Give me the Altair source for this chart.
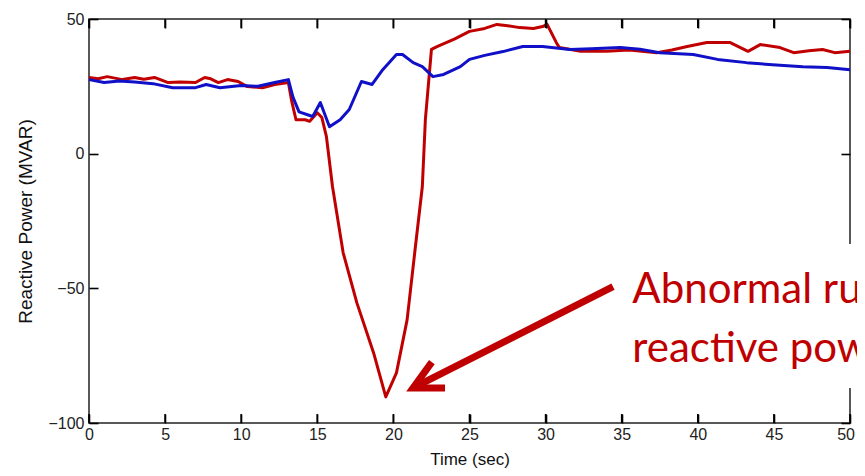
import altair as alt
import pandas as pd

# ---- data ----
red_t = [0, 0.6, 1.2, 2.2, 3.0, 3.6, 4.3, 5.2, 6.0, 7.0, 7.6, 8.0, 8.5, 9.1, 9.8, 10.4,
         11.4, 12.2, 13.1, 13.3, 13.6, 14.2, 14.5, 15.0, 15.3, 15.6, 16.0, 16.7, 17.6,
         18.7, 19.5, 20.2, 20.9, 21.4, 21.9, 22.1, 22.5, 22.9, 24.0, 25.0, 26.0, 26.8,
         27.5, 28.3, 29.2, 29.8, 30.1, 30.7, 30.9, 32.3, 34.0, 35.5, 37.3, 38.3, 39.3,
         40.6, 42.1, 43.3, 44.1, 45.4, 46.3, 47.3, 48.2, 49.0, 50.0]
red_q = [28.3, 27.8, 28.6, 27.5, 28.3, 27.6, 28.3, 26.4, 26.6, 26.4, 28.3, 27.8, 26.4,
         27.5, 26.8, 24.9, 24.5, 25.7, 26.4, 20.0, 12.6, 12.6, 12.0, 15.2, 13.4, 6.3,
         -12.3, -36.8, -55.4, -74.0, -90.3, -81.4, -61.7, -36.8, -12.3, 12.6, 38.7, 39.8,
         42.5, 45.4, 46.5, 48.0, 47.5, 46.8, 46.5, 47.2, 48.0, 41.3, 39.4, 38.0, 38.0,
         38.5, 37.5, 38.5, 39.8, 41.3, 41.3, 38.0, 40.5, 39.4, 37.5, 38.2, 38.7, 37.5, 38.0]

blue_t = [0, 1.0, 2.0, 3.0, 4.2, 5.5, 7.0, 7.7, 8.6, 10.0, 11.1, 12.2, 13.1, 13.4, 13.8,
          14.7, 15.2, 15.8, 16.5, 17.1, 17.9, 18.6, 19.3, 20.2, 20.6, 21.3, 21.9, 22.6,
          23.3, 24.4, 25.0, 26.0, 27.2, 28.5, 29.8, 31.6, 33.0, 34.9, 36.2, 37.5, 39.7,
          41.3, 43.2, 44.9, 46.9, 48.5, 50.0]
blue_q = [27.5, 26.4, 27.0, 26.6, 26.0, 24.5, 24.5, 25.7, 24.5, 25.3, 25.0, 26.4, 27.5,
          21.0, 15.5, 13.8, 19.0, 10.0, 12.6, 16.4, 26.8, 25.7, 31.2, 36.8, 36.8, 33.8,
          32.3, 28.6, 29.4, 32.3, 35.0, 36.5, 37.9, 39.8, 39.8, 38.7, 39.0, 39.4, 38.8,
          37.5, 36.8, 35.0, 33.8, 33.0, 32.3, 32.0, 31.2]

x_ticks = [0, 5, 10, 15, 20, 25, 30, 35, 40, 45, 50]
y_ticks = [-100, -50, 0, 50]
y_ticks_right = [-100, 0, 50]   # the -50 tick on the right is hidden by the note box

note_lines = ["Abnormal rush of", "reactive power"]
note_t = [35.7, 35.7]
note_q = [-55.4, -77.3]

box_t = [35.0]
box_t2 = [52.0]
box_q = [-33.5]
box_q2 = [-87.0]

arrow_t = [34.43, 21.29]
arrow_q = [-49.4, -87.0]

RED = "#C00000"
BLUE = "#1010C8"
NOTE = "#C00000"

PLOT_W, PLOT_H, TICK = 761, 404, 9

red_df = pd.DataFrame({"t": red_t, "q": red_q})
blue_df = pd.DataFrame({"t": blue_t, "q": blue_q})
xtick_df = pd.DataFrame({"t": x_ticks})
note_df = pd.DataFrame({"t": note_t, "q": note_q, "label": note_lines})
box_df = pd.DataFrame({"t": box_t, "t2": box_t2, "q": box_q, "q2": box_q2})
arrow_df = pd.DataFrame({"t": arrow_t, "q": arrow_q, "o": [0, 1]})
tip_df = arrow_df.iloc[[1]]

xs = alt.Scale(domain=[0, 50], nice=False, zero=False)
ys = alt.Scale(domain=[-100, 50], nice=False, zero=False)

common_axis = dict(grid=False, domain=False, ticks=True, tickSize=TICK, offset=-TICK,
                   tickColor="#000", tickWidth=1.6, tickOpacity=1, zindex=1,
                   labelFont="Liberation Sans", labelFontSize=16, labelColor="#222",
                   titleFont="Liberation Sans", titleFontWeight="normal", titleColor="#111")

x_bottom = alt.Axis(orient="bottom", values=x_ticks, title="Time (sec)", labelPadding=3,
                    titleFontSize=17, titlePadding=9, labelFlush=True, labelFlushOffset=4.5,
                    **common_axis)
y_left = alt.Axis(orient="left", values=y_ticks, title="Reactive Power (MVAR)", labelPadding=5,
                  titleFontSize=19, titlePadding=12, labelFlush=False, **common_axis)
x_top = alt.Axis(orient="top", values=x_ticks, labels=False, title=None, **common_axis)
y_right = alt.Axis(orient="right", values=y_ticks_right, labels=False, title=None, **common_axis)

red = alt.Chart(red_df).mark_line(color=RED, strokeWidth=3, strokeJoin="round").encode(
    x=alt.X("t:Q", scale=xs, axis=x_bottom),
    y=alt.Y("q:Q", scale=ys, axis=y_left),
    order="t:Q",
)
blue = alt.Chart(blue_df).mark_line(color=BLUE, strokeWidth=3, strokeJoin="round").encode(
    x=alt.X("t:Q", scale=xs, axis=x_top),
    y=alt.Y("q:Q", scale=ys, axis=y_right),
    order="t:Q",
)
# inward x ticks on the top and bottom edges of the box
top_ticks = alt.Chart(xtick_df).mark_rule(color="#000", strokeWidth=1.6).encode(
    x=alt.X("t:Q", scale=xs, axis=None),
    y=alt.value(0), y2=alt.value(TICK),
)
bottom_ticks = alt.Chart(xtick_df).mark_rule(color="#000", strokeWidth=1.6).encode(
    x=alt.X("t:Q", scale=xs, axis=None),
    y=alt.value(PLOT_H - TICK), y2=alt.value(PLOT_H),
)
box = alt.Chart(box_df).mark_rect(color="white").encode(
    x=alt.X("t:Q", scale=xs, axis=None), x2="t2:Q",
    y=alt.Y("q:Q", scale=ys, axis=None), y2="q2:Q",
)
note = alt.Chart(note_df).mark_text(align="left", baseline="alphabetic", font="Lato",
                                    fontSize=42, color=NOTE).encode(
    x=alt.X("t:Q", scale=xs, axis=None),
    y=alt.Y("q:Q", scale=ys, axis=None),
    text="label:N",
)
arrow = alt.Chart(arrow_df).mark_line(color=NOTE, strokeWidth=7, strokeCap="butt").encode(
    x=alt.X("t:Q", scale=xs, axis=None),
    y=alt.Y("q:Q", scale=ys, axis=None),
    order="o:Q",
)
head = alt.Chart(tip_df).mark_point(
    shape="M-0.454,0.891L0,0L0.454,0.891", filled=False, stroke=NOTE, strokeWidth=7,
    size=4096, angle=243, opacity=1, strokeJoin="miter", strokeCap="butt",
).encode(
    x=alt.X("t:Q", scale=xs, axis=None),
    y=alt.Y("q:Q", scale=ys, axis=None),
)

chart = alt.layer(red, blue, top_ticks, bottom_ticks, box, note, arrow, head).resolve_axis(
    x="independent", y="independent"
).properties(
    width=PLOT_W, height=PLOT_H,
    autosize=alt.AutoSizeParams(type="none"),
    padding={"left": 81, "top": 11, "right": 7, "bottom": 45},
    background="white",
).configure_view(stroke="#222", strokeWidth=1.5)

chart.save("out.html", embed_options={"renderer": "svg", "actions": False})
